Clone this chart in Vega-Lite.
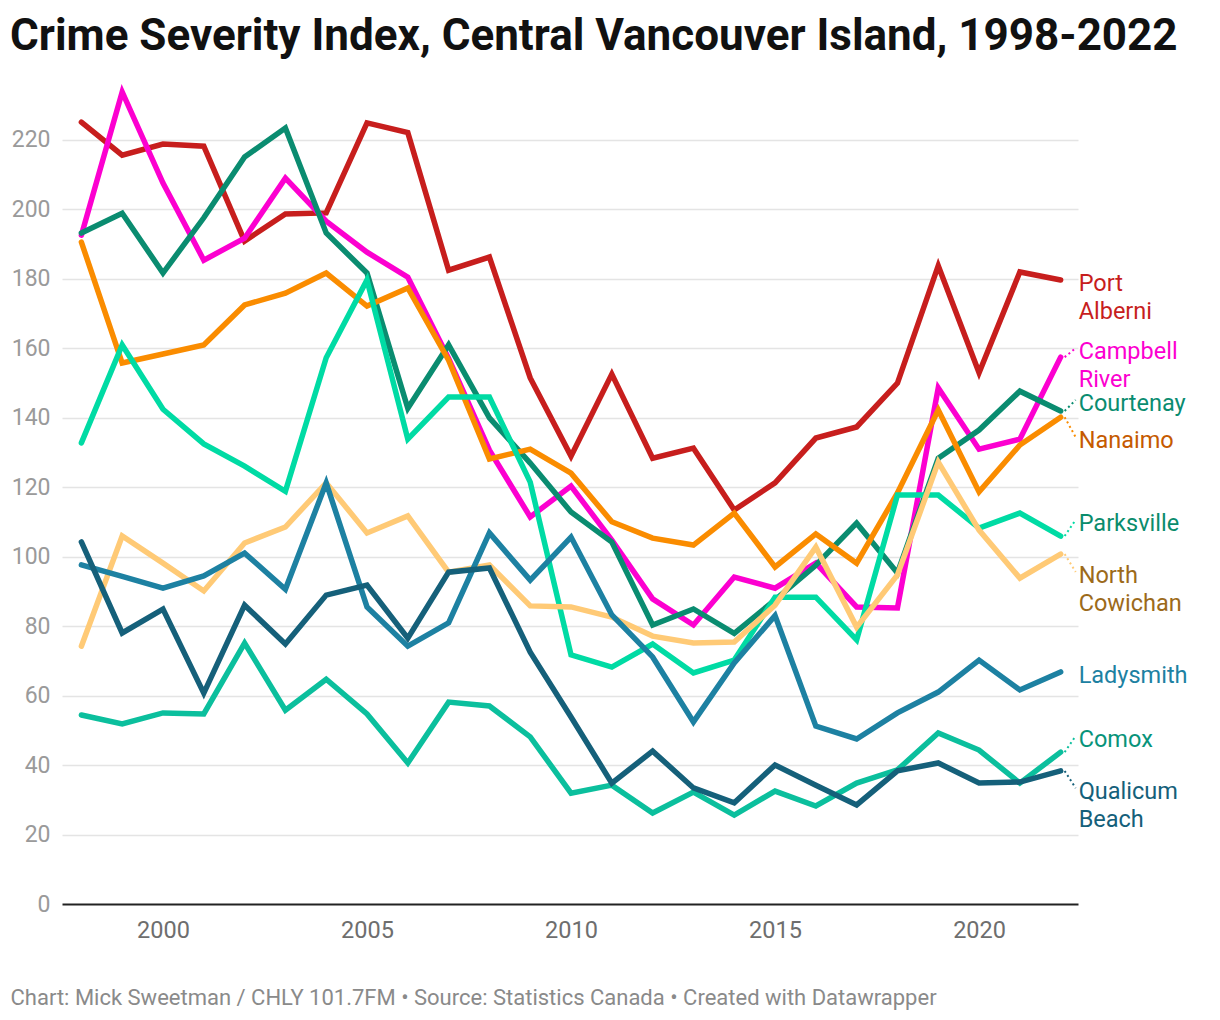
{
  "$schema": "https://vega.github.io/schema/vega-lite/v6.json",
  "width": 1016,
  "height": 820,
  "autosize": {"type": "none"},
  "padding": {"left": 62, "top": 84, "right": 142, "bottom": 116},
  "background": "#ffffff",
  "config": {
    "view": {"stroke": null},
    "font": "Roboto"
  },
  "title": {
    "text": "Crime Severity Index, Central Vancouver Island, 1998-2022",
    "anchor": "start",
    "frame": "group",
    "dx": -52,
    "offset": -13,
    "baseline": "alphabetic",
    "font": "Roboto",
    "fontSize": 44,
    "fontWeight": "bold",
    "color": "#111111"
  },
  "datasets": {
    "csi": [
      {"city": "Port Alberni", "year": 1998, "csi": 225.0}, {"city": "Port Alberni", "year": 1999, "csi": 215.5}, {"city": "Port Alberni", "year": 2000, "csi": 218.7}, {"city": "Port Alberni", "year": 2001, "csi": 218.1}, {"city": "Port Alberni", "year": 2002, "csi": 190.8}, {"city": "Port Alberni", "year": 2003, "csi": 198.6}, {"city": "Port Alberni", "year": 2004, "csi": 198.9}, {"city": "Port Alberni", "year": 2005, "csi": 224.8}, {"city": "Port Alberni", "year": 2006, "csi": 222.0}, {"city": "Port Alberni", "year": 2007, "csi": 182.4}, {"city": "Port Alberni", "year": 2008, "csi": 186.2}, {"city": "Port Alberni", "year": 2009, "csi": 151.4}, {"city": "Port Alberni", "year": 2010, "csi": 128.9}, {"city": "Port Alberni", "year": 2011, "csi": 152.5}, {"city": "Port Alberni", "year": 2012, "csi": 128.3}, {"city": "Port Alberni", "year": 2013, "csi": 131.2}, {"city": "Port Alberni", "year": 2014, "csi": 113.4}, {"city": "Port Alberni", "year": 2015, "csi": 121.2}, {"city": "Port Alberni", "year": 2016, "csi": 134.1}, {"city": "Port Alberni", "year": 2017, "csi": 137.3}, {"city": "Port Alberni", "year": 2018, "csi": 149.9}, {"city": "Port Alberni", "year": 2019, "csi": 183.7}, {"city": "Port Alberni", "year": 2020, "csi": 152.9}, {"city": "Port Alberni", "year": 2021, "csi": 181.9}, {"city": "Port Alberni", "year": 2022, "csi": 179.6},
      {"city": "Campbell River", "year": 1998, "csi": 192.5}, {"city": "Campbell River", "year": 1999, "csi": 233.7}, {"city": "Campbell River", "year": 2000, "csi": 207.5}, {"city": "Campbell River", "year": 2001, "csi": 185.3}, {"city": "Campbell River", "year": 2002, "csi": 191.6}, {"city": "Campbell River", "year": 2003, "csi": 208.9}, {"city": "Campbell River", "year": 2004, "csi": 196.5}, {"city": "Campbell River", "year": 2005, "csi": 187.6}, {"city": "Campbell River", "year": 2006, "csi": 180.4}, {"city": "Campbell River", "year": 2007, "csi": 157.0}, {"city": "Campbell River", "year": 2008, "csi": 130.6}, {"city": "Campbell River", "year": 2009, "csi": 111.4}, {"city": "Campbell River", "year": 2010, "csi": 120.3}, {"city": "Campbell River", "year": 2011, "csi": 104.7}, {"city": "Campbell River", "year": 2012, "csi": 87.8}, {"city": "Campbell River", "year": 2013, "csi": 80.3}, {"city": "Campbell River", "year": 2014, "csi": 94.1}, {"city": "Campbell River", "year": 2015, "csi": 90.9}, {"city": "Campbell River", "year": 2016, "csi": 98.1}, {"city": "Campbell River", "year": 2017, "csi": 85.5}, {"city": "Campbell River", "year": 2018, "csi": 85.2}, {"city": "Campbell River", "year": 2019, "csi": 148.5}, {"city": "Campbell River", "year": 2020, "csi": 130.9}, {"city": "Campbell River", "year": 2021, "csi": 133.8}, {"city": "Campbell River", "year": 2022, "csi": 157.4},
      {"city": "Courtenay", "year": 1998, "csi": 193.1}, {"city": "Courtenay", "year": 1999, "csi": 198.8}, {"city": "Courtenay", "year": 2000, "csi": 181.6}, {"city": "Courtenay", "year": 2001, "csi": 197.5}, {"city": "Courtenay", "year": 2002, "csi": 215.0}, {"city": "Courtenay", "year": 2003, "csi": 223.3}, {"city": "Courtenay", "year": 2004, "csi": 193.1}, {"city": "Courtenay", "year": 2005, "csi": 181.6}, {"city": "Courtenay", "year": 2006, "csi": 142.7}, {"city": "Courtenay", "year": 2007, "csi": 160.9}, {"city": "Courtenay", "year": 2008, "csi": 139.9}, {"city": "Courtenay", "year": 2009, "csi": 126.9}, {"city": "Courtenay", "year": 2010, "csi": 112.8}, {"city": "Courtenay", "year": 2011, "csi": 104.2}, {"city": "Courtenay", "year": 2012, "csi": 80.3}, {"city": "Courtenay", "year": 2013, "csi": 84.9}, {"city": "Courtenay", "year": 2014, "csi": 77.9}, {"city": "Courtenay", "year": 2015, "csi": 87.5}, {"city": "Courtenay", "year": 2016, "csi": 97.5}, {"city": "Courtenay", "year": 2017, "csi": 109.6}, {"city": "Courtenay", "year": 2018, "csi": 95.3}, {"city": "Courtenay", "year": 2019, "csi": 128.3}, {"city": "Courtenay", "year": 2020, "csi": 136.4}, {"city": "Courtenay", "year": 2021, "csi": 147.6}, {"city": "Courtenay", "year": 2022, "csi": 141.9},
      {"city": "Nanaimo", "year": 1998, "csi": 190.5}, {"city": "Nanaimo", "year": 1999, "csi": 155.7}, {"city": "Nanaimo", "year": 2000, "csi": 158.3}, {"city": "Nanaimo", "year": 2001, "csi": 160.9}, {"city": "Nanaimo", "year": 2002, "csi": 172.4}, {"city": "Nanaimo", "year": 2003, "csi": 175.8}, {"city": "Nanaimo", "year": 2004, "csi": 181.6}, {"city": "Nanaimo", "year": 2005, "csi": 172.1}, {"city": "Nanaimo", "year": 2006, "csi": 177.3}, {"city": "Nanaimo", "year": 2007, "csi": 156.5}, {"city": "Nanaimo", "year": 2008, "csi": 128.1}, {"city": "Nanaimo", "year": 2009, "csi": 130.9}, {"city": "Nanaimo", "year": 2010, "csi": 124.0}, {"city": "Nanaimo", "year": 2011, "csi": 110.0}, {"city": "Nanaimo", "year": 2012, "csi": 105.3}, {"city": "Nanaimo", "year": 2013, "csi": 103.3}, {"city": "Nanaimo", "year": 2014, "csi": 112.5}, {"city": "Nanaimo", "year": 2015, "csi": 97.0}, {"city": "Nanaimo", "year": 2016, "csi": 106.5}, {"city": "Nanaimo", "year": 2017, "csi": 98.1}, {"city": "Nanaimo", "year": 2018, "csi": 118.3}, {"city": "Nanaimo", "year": 2019, "csi": 142.2}, {"city": "Nanaimo", "year": 2020, "csi": 118.6}, {"city": "Nanaimo", "year": 2021, "csi": 132.1}, {"city": "Nanaimo", "year": 2022, "csi": 140.1},
      {"city": "Parksville", "year": 1998, "csi": 132.7}, {"city": "Parksville", "year": 1999, "csi": 160.9}, {"city": "Parksville", "year": 2000, "csi": 142.4}, {"city": "Parksville", "year": 2001, "csi": 132.4}, {"city": "Parksville", "year": 2002, "csi": 126.0}, {"city": "Parksville", "year": 2003, "csi": 118.8}, {"city": "Parksville", "year": 2004, "csi": 157.2}, {"city": "Parksville", "year": 2005, "csi": 179.6}, {"city": "Parksville", "year": 2006, "csi": 133.8}, {"city": "Parksville", "year": 2007, "csi": 145.9}, {"city": "Parksville", "year": 2008, "csi": 145.9}, {"city": "Parksville", "year": 2009, "csi": 121.4}, {"city": "Parksville", "year": 2010, "csi": 71.7}, {"city": "Parksville", "year": 2011, "csi": 68.2}, {"city": "Parksville", "year": 2012, "csi": 74.8}, {"city": "Parksville", "year": 2013, "csi": 66.5}, {"city": "Parksville", "year": 2014, "csi": 70.2}, {"city": "Parksville", "year": 2015, "csi": 88.3}, {"city": "Parksville", "year": 2016, "csi": 88.3}, {"city": "Parksville", "year": 2017, "csi": 76.0}, {"city": "Parksville", "year": 2018, "csi": 117.7}, {"city": "Parksville", "year": 2019, "csi": 117.7}, {"city": "Parksville", "year": 2020, "csi": 108.2}, {"city": "Parksville", "year": 2021, "csi": 112.5}, {"city": "Parksville", "year": 2022, "csi": 105.9},
      {"city": "North Cowichan", "year": 1998, "csi": 74.2}, {"city": "North Cowichan", "year": 1999, "csi": 105.9}, {"city": "North Cowichan", "year": 2000, "csi": 98.1}, {"city": "North Cowichan", "year": 2001, "csi": 90.1}, {"city": "North Cowichan", "year": 2002, "csi": 103.9}, {"city": "North Cowichan", "year": 2003, "csi": 108.5}, {"city": "North Cowichan", "year": 2004, "csi": 121.2}, {"city": "North Cowichan", "year": 2005, "csi": 106.8}, {"city": "North Cowichan", "year": 2006, "csi": 111.7}, {"city": "North Cowichan", "year": 2007, "csi": 95.5}, {"city": "North Cowichan", "year": 2008, "csi": 97.6}, {"city": "North Cowichan", "year": 2009, "csi": 85.8}, {"city": "North Cowichan", "year": 2010, "csi": 85.5}, {"city": "North Cowichan", "year": 2011, "csi": 82.6}, {"city": "North Cowichan", "year": 2012, "csi": 77.1}, {"city": "North Cowichan", "year": 2013, "csi": 75.1}, {"city": "North Cowichan", "year": 2014, "csi": 75.4}, {"city": "North Cowichan", "year": 2015, "csi": 86.0}, {"city": "North Cowichan", "year": 2016, "csi": 102.7}, {"city": "North Cowichan", "year": 2017, "csi": 79.7}, {"city": "North Cowichan", "year": 2018, "csi": 94.7}, {"city": "North Cowichan", "year": 2019, "csi": 127.2}, {"city": "North Cowichan", "year": 2020, "csi": 107.6}, {"city": "North Cowichan", "year": 2021, "csi": 93.8}, {"city": "North Cowichan", "year": 2022, "csi": 100.7},
      {"city": "Ladysmith", "year": 1998, "csi": 97.6}, {"city": "Ladysmith", "year": 1999, "csi": 94.3}, {"city": "Ladysmith", "year": 2000, "csi": 90.9}, {"city": "Ladysmith", "year": 2001, "csi": 94.4}, {"city": "Ladysmith", "year": 2002, "csi": 101.0}, {"city": "Ladysmith", "year": 2003, "csi": 90.6}, {"city": "Ladysmith", "year": 2004, "csi": 121.2}, {"city": "Ladysmith", "year": 2005, "csi": 85.5}, {"city": "Ladysmith", "year": 2006, "csi": 74.2}, {"city": "Ladysmith", "year": 2007, "csi": 80.9}, {"city": "Ladysmith", "year": 2008, "csi": 106.8}, {"city": "Ladysmith", "year": 2009, "csi": 93.2}, {"city": "Ladysmith", "year": 2010, "csi": 105.6}, {"city": "Ladysmith", "year": 2011, "csi": 83.2}, {"city": "Ladysmith", "year": 2012, "csi": 71.1}, {"city": "Ladysmith", "year": 2013, "csi": 52.4}, {"city": "Ladysmith", "year": 2014, "csi": 69.4}, {"city": "Ladysmith", "year": 2015, "csi": 83.0}, {"city": "Ladysmith", "year": 2016, "csi": 51.2}, {"city": "Ladysmith", "year": 2017, "csi": 47.5}, {"city": "Ladysmith", "year": 2018, "csi": 55.0}, {"city": "Ladysmith", "year": 2019, "csi": 61.0}, {"city": "Ladysmith", "year": 2020, "csi": 70.2}, {"city": "Ladysmith", "year": 2021, "csi": 61.6}, {"city": "Ladysmith", "year": 2022, "csi": 66.8},
      {"city": "Comox", "year": 1998, "csi": 54.4}, {"city": "Comox", "year": 1999, "csi": 51.8}, {"city": "Comox", "year": 2000, "csi": 55.0}, {"city": "Comox", "year": 2001, "csi": 54.7}, {"city": "Comox", "year": 2002, "csi": 75.1}, {"city": "Comox", "year": 2003, "csi": 55.8}, {"city": "Comox", "year": 2004, "csi": 64.7}, {"city": "Comox", "year": 2005, "csi": 54.7}, {"city": "Comox", "year": 2006, "csi": 40.6}, {"city": "Comox", "year": 2007, "csi": 58.1}, {"city": "Comox", "year": 2008, "csi": 57.0}, {"city": "Comox", "year": 2009, "csi": 48.1}, {"city": "Comox", "year": 2010, "csi": 31.9}, {"city": "Comox", "year": 2011, "csi": 34.2}, {"city": "Comox", "year": 2012, "csi": 26.2}, {"city": "Comox", "year": 2013, "csi": 32.2}, {"city": "Comox", "year": 2014, "csi": 25.6}, {"city": "Comox", "year": 2015, "csi": 32.5}, {"city": "Comox", "year": 2016, "csi": 28.2}, {"city": "Comox", "year": 2017, "csi": 34.8}, {"city": "Comox", "year": 2018, "csi": 38.6}, {"city": "Comox", "year": 2019, "csi": 49.2}, {"city": "Comox", "year": 2020, "csi": 44.3}, {"city": "Comox", "year": 2021, "csi": 34.8}, {"city": "Comox", "year": 2022, "csi": 43.7},
      {"city": "Qualicum Beach", "year": 1998, "csi": 104.2}, {"city": "Qualicum Beach", "year": 1999, "csi": 78.0}, {"city": "Qualicum Beach", "year": 2000, "csi": 84.9}, {"city": "Qualicum Beach", "year": 2001, "csi": 60.7}, {"city": "Qualicum Beach", "year": 2002, "csi": 86.0}, {"city": "Qualicum Beach", "year": 2003, "csi": 74.8}, {"city": "Qualicum Beach", "year": 2004, "csi": 88.9}, {"city": "Qualicum Beach", "year": 2005, "csi": 91.8}, {"city": "Qualicum Beach", "year": 2006, "csi": 76.5}, {"city": "Qualicum Beach", "year": 2007, "csi": 95.5}, {"city": "Qualicum Beach", "year": 2008, "csi": 96.7}, {"city": "Qualicum Beach", "year": 2009, "csi": 72.5}, {"city": "Qualicum Beach", "year": 2010, "csi": 53.8}, {"city": "Qualicum Beach", "year": 2011, "csi": 34.8}, {"city": "Qualicum Beach", "year": 2012, "csi": 44.0}, {"city": "Qualicum Beach", "year": 2013, "csi": 33.4}, {"city": "Qualicum Beach", "year": 2014, "csi": 29.1}, {"city": "Qualicum Beach", "year": 2015, "csi": 40.0}, {"city": "Qualicum Beach", "year": 2016, "csi": 34.2}, {"city": "Qualicum Beach", "year": 2017, "csi": 28.5}, {"city": "Qualicum Beach", "year": 2018, "csi": 38.3}, {"city": "Qualicum Beach", "year": 2019, "csi": 40.6}, {"city": "Qualicum Beach", "year": 2020, "csi": 34.8}, {"city": "Qualicum Beach", "year": 2021, "csi": 35.1}, {"city": "Qualicum Beach", "year": 2022, "csi": 38.3}
    ],
    "endLabels": [
      {"city": "Port Alberni", "label": "Port\nAlberni", "labelValue": 178.4},
      {"city": "Campbell River", "label": "Campbell\nRiver", "labelValue": 158.8},
      {"city": "Courtenay", "label": "Courtenay", "labelValue": 143.9},
      {"city": "Nanaimo", "label": "Nanaimo", "labelValue": 133.2},
      {"city": "Parksville", "label": "Parksville", "labelValue": 109.4},
      {"city": "North Cowichan", "label": "North\nCowichan", "labelValue": 94.4},
      {"city": "Ladysmith", "label": "Ladysmith", "labelValue": 65.6},
      {"city": "Comox", "label": "Comox", "labelValue": 47.2},
      {"city": "Qualicum Beach", "label": "Qualicum\nBeach", "labelValue": 32.2}
    ]
  },
  "resolve": {
    "scale": {"color": "independent"},
    "axis": {"x": "independent", "y": "independent"}
  },
  "layer": [
    {
      "data": {"name": "csi"},
      "mark": {"type": "line", "strokeWidth": 5.5, "strokeCap": "round", "strokeJoin": "miter"},
      "encoding": {
        "x": {
          "field": "year",
          "type": "quantitative",
          "scale": {"domain": [1997.525, 2022.425], "nice": false, "zero": false},
          "axis": {
            "values": [2000, 2005, 2010, 2015, 2020],
            "format": "d",
            "grid": false,
            "ticks": false,
            "domain": false,
            "labelFont": "Roboto",
            "labelFontSize": 23.5,
            "labelColor": "#6e6e6e",
            "labelPadding": 14,
            "title": "Chart: Mick Sweetman / CHLY 101.7FM • Source: Statistics Canada • Created with Datawrapper",
            "titleX": -52,
            "titleY": 93,
            "titleAlign": "left",
            "titleBaseline": "middle",
            "titleFont": "Roboto",
            "titleFontSize": 22,
            "titleFontWeight": "normal",
            "titleColor": "#8a8a8a"
          }
        },
        "y": {
          "field": "csi",
          "type": "quantitative",
          "scale": {"domain": [0, 236], "nice": false, "zero": false},
          "axis": {
            "values": [0, 20, 40, 60, 80, 100, 120, 140, 160, 180, 200, 220],
            "grid": true,
            "gridColor": {"condition": {"test": "datum.value === 0", "value": "#222222"}, "value": "#e4e4e4"},
            "gridWidth": {"condition": {"test": "datum.value === 0", "value": 2}, "value": 1.5},
            "ticks": false,
            "domain": false,
            "labelFont": "Roboto",
            "labelFontSize": 23,
            "labelColor": "#9a9a9a",
            "labelPadding": 12,
            "title": null
          }
        },
        "color": {
          "field": "city",
          "type": "nominal",
          "scale": {
            "domain": ["Qualicum Beach", "Comox", "Ladysmith", "North Cowichan", "Parksville", "Nanaimo", "Courtenay", "Campbell River", "Port Alberni"],
            "range": ["#15607a", "#0bbf9d", "#1d81a2", "#ffca76", "#00dba4", "#fa8c00", "#0a8c70", "#fc00d0", "#c71e1d"]
          },
          "legend": null
        }
      }
    },
    {
      "data": {"name": "csi"},
      "transform": [
        {"filter": "datum.year === 2022 && datum.city !== 'Port Alberni' && datum.city !== 'Ladysmith'"},
        {"lookup": "city", "from": {"data": {"name": "endLabels"}, "key": "city", "fields": ["labelValue"]}}
      ],
      "mark": {"type": "rule", "strokeWidth": 2, "strokeDash": [2, 3], "xOffset": 4, "x2Offset": 15, "y2Offset": -4},
      "encoding": {
        "x": {"field": "year", "type": "quantitative", "axis": null},
        "x2": {"field": "year"},
        "y": {"field": "csi", "type": "quantitative", "axis": null},
        "y2": {"field": "labelValue"},
        "color": {
          "field": "city",
          "type": "nominal",
          "scale": {
            "domain": ["Qualicum Beach", "Comox", "Ladysmith", "North Cowichan", "Parksville", "Nanaimo", "Courtenay", "Campbell River", "Port Alberni"],
            "range": ["#15607a", "#0bbf9d", "#1d81a2", "#ffca76", "#00dba4", "#fa8c00", "#0a8c70", "#fc00d0", "#c71e1d"]
          },
          "legend": null
        }
      }
    },
    {
      "data": {"name": "csi"},
      "transform": [
        {"filter": "datum.year === 2022"},
        {"lookup": "city", "from": {"data": {"name": "endLabels"}, "key": "city", "fields": ["label", "labelValue"]}}
      ],
      "mark": {"type": "text", "align": "left", "baseline": "middle", "dx": 18, "font": "Roboto", "fontSize": 23.5, "lineBreak": "\n", "lineHeight": 28},
      "encoding": {
        "x": {"field": "year", "type": "quantitative", "axis": null},
        "y": {"field": "labelValue", "type": "quantitative", "axis": null},
        "text": {"field": "label"},
        "color": {
          "field": "city",
          "type": "nominal",
          "scale": {
            "domain": ["Qualicum Beach", "Comox", "Ladysmith", "North Cowichan", "Parksville", "Nanaimo", "Courtenay", "Campbell River", "Port Alberni"],
            "range": ["#15607a", "#08937a", "#1d81a2", "#9c6a1a", "#0a8c6c", "#c55a00", "#0a8c70", "#fc00d0", "#c71e1d"]
          },
          "legend": null
        }
      }
    }
  ]
}
